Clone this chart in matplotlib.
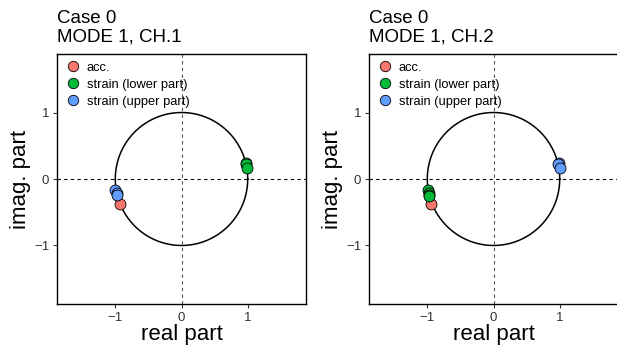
import numpy as np
import matplotlib
matplotlib.use("Agg")
import matplotlib.pyplot as plt
from matplotlib.lines import Line2D

plt.rcParams['font.family'] = ['Liberation Sans', 'DejaVu Sans']

series_names = ["acc.", "strain (lower part)", "strain (upper part)"]
colors = ["#F8766D", "#00BA38", "#619CFF"]

# Panel 1 (CH.1)
ch1_acc_re = [-0.93]
ch1_acc_im = [-0.37]
ch1_low_re = [0.97, 0.98, 0.99]
ch1_low_im = [0.24, 0.22, 0.17]
ch1_up_re = [-1.00, -0.98, -0.97]
ch1_up_im = [-0.17, -0.21, -0.24]

# Panel 2 (CH.2)
ch2_acc_re = [-0.94]
ch2_acc_im = [-0.37]
ch2_low_re = [-0.99, -0.98, -0.97, -0.97]
ch2_low_im = [-0.17, -0.21, -0.24, -0.26]
ch2_up_re = [0.99, 0.98, 1.00]
ch2_up_im = [0.24, 0.22, 0.17]

titles = ["Case 0\nMODE 1, CH.1", "Case 0\nMODE 1, CH.2"]
ticks = [-1, 0, 1]
tick_labels = ["\u22121", "0", "1"]

panels = [
    [(ch1_acc_re, ch1_acc_im), (ch1_low_re, ch1_low_im), (ch1_up_re, ch1_up_im)],
    [(ch2_acc_re, ch2_acc_im), (ch2_low_re, ch2_low_im), (ch2_up_re, ch2_up_im)],
]

W, H = 617, 352
fig = plt.figure(figsize=(W / 100, H / 100), dpi=100)
lefts = [57, 369]
ax_w, ax_h = 249, 250
ax_bottom = 48

theta = np.linspace(0, 2 * np.pi, 400)
lim = 1.88

for i, left in enumerate(lefts):
    ax = fig.add_axes([left / W, ax_bottom / H, ax_w / W, ax_h / H])
    ax.plot(np.cos(theta), np.sin(theta), color='black', lw=1.1, zorder=2)
    ax.axhline(0, color='black', lw=0.8, ls=(0, (3, 3)), zorder=1)
    ax.axvline(0, color='#555555', lw=0.8, ls=(0, (3, 3)), zorder=1)
    for (re, im), c in zip(panels[i], colors):
        ax.scatter(re, im, s=62, color=c, edgecolor='black', linewidth=0.6, zorder=3)
    ax.set_xlim(-lim, lim)
    ax.set_ylim(-lim, lim)
    ax.set_xticks(ticks)
    ax.set_xticklabels(tick_labels)
    ax.set_yticks(ticks)
    ax.set_yticklabels(tick_labels)
    ax.tick_params(direction='out', length=3, width=0.8, labelsize=9.5,
                   colors='#333333', labelcolor='#333333', pad=2.5)
    for sp in ax.spines.values():
        sp.set_linewidth(1.0)
        sp.set_color('black')
    ax.set_xlabel("real part", fontsize=16, labelpad=0)
    ax.set_ylabel("imag. part", fontsize=16, labelpad=2)
    ax.text(0, 1.035, titles[i], transform=ax.transAxes, ha='left', va='bottom',
            fontsize=13.5, linespacing=1.1)
    handles = [Line2D([], [], marker='o', ls='none', markersize=7.5,
                      markerfacecolor=c, markeredgecolor='black', markeredgewidth=0.6)
               for c in colors]
    ax.legend(handles, series_names, loc='upper left', frameon=False, fontsize=9.3,
              handletextpad=0.5, labelspacing=0.38, borderaxespad=0.3,
              handlelength=1.2, borderpad=0.3)

fig.savefig("out.png", dpi=100)
